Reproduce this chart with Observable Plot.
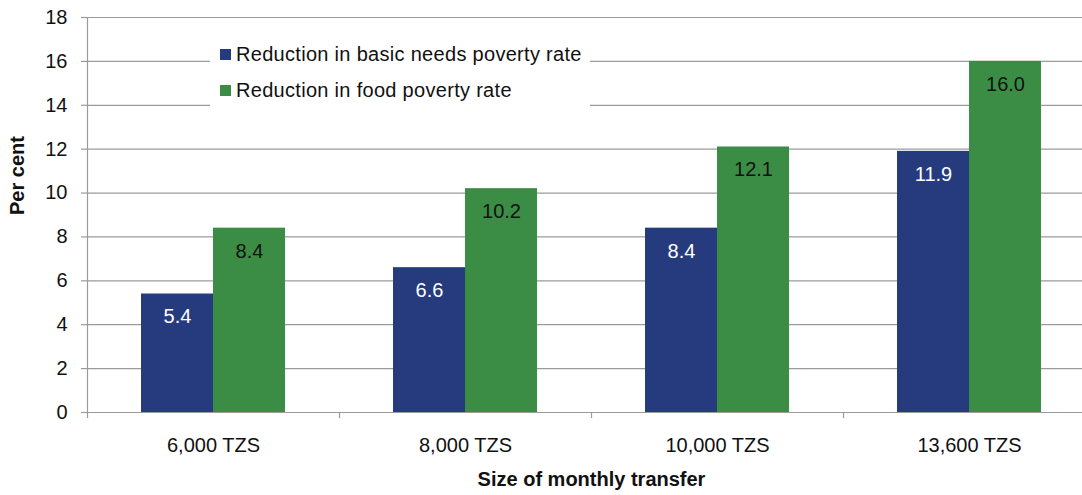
<!DOCTYPE html>
<html>
<head>
<meta charset="utf-8">
<script src="https://cdn.jsdelivr.net/npm/d3@7"></script>
<script src="https://cdn.jsdelivr.net/npm/@observablehq/plot@0.6"></script>
<style>
  html, body { margin: 0; padding: 0; background: #fff; overflow: hidden; }
  #chart { position: relative; width: 1082px; height: 495px; font-family: "Liberation Sans", Arial, Helvetica, sans-serif; }
  #legend { position: absolute; left: 210px; top: 36px; width: 380px; height: 82px; background: #fff; }
  .item { position: absolute; left: 10px; font-size: 20px; letter-spacing: 0.3px; color: #111; white-space: nowrap; }
  .sw { position: absolute; left: 0; width: 11px; height: 11px; }
  .lab { position: absolute; left: 16px; }
</style>
</head>
<body>
<div id="chart"></div>
<script>
// Size of the monthly cash transfer (categories)
const transfers = ["6,000 TZS", "8,000 TZS", "10,000 TZS", "13,600 TZS"];
// Reduction in poverty rates, per cent
const basicNeeds = [5.4, 6.6, 8.4, 11.9];
const foodPoverty = [8.4, 10.2, 12.1, 16.0];
const seriesNames = ["Reduction in basic needs poverty rate", "Reduction in food poverty rate"];
const seriesColors = ["#263B7E", "#3B8D46"];
const yTicks = [0, 2, 4, 6, 8, 10, 12, 14, 16, 18];

const basicRows = transfers.map((t, i) => ({transfer: t, value: basicNeeds[i]}));
const foodRows = transfers.map((t, i) => ({transfer: t, value: foodPoverty[i]}));

const width = 1082, height = 495;
const marginLeft = 87, marginRight = -13, marginTop = 17, marginBottom = 83;
const band = (width - marginLeft - marginRight) / transfers.length;
const barW = band * 2 / 7;          // each bar is 2/7 of a category band
const outer = (band - 2 * barW) / 2; // white space on each side of a pair
const grey = "#9b9b9b";
const font = "\"Liberation Sans\", Arial, Helvetica, sans-serif";

const chart = Plot.plot({
  width, height, marginLeft, marginRight, marginTop, marginBottom,
  style: {fontFamily: font, fontSize: "20px", color: "#111", background: "#fff"},
  x: {domain: transfers, padding: 0},
  y: {domain: [0, 18]},
  marks: [
    // horizontal gridlines
    Plot.ruleY(yTicks, {stroke: grey, strokeWidth: 1.2}),
    // left axis line (runs down past the baseline like the category ticks)
    Plot.ruleX([transfers[0]], {dx: -band / 2, y1: 18, y2: 0, insetBottom: -6, stroke: grey, strokeWidth: 1.2}),
    // short ticks separating the categories
    Plot.ruleX(transfers.slice(1), {dx: -band / 2, y1: 0, y2: 0, insetBottom: -6, stroke: grey, strokeWidth: 1.2}),
    Plot.axisY({ticks: yTicks, tickSize: 6, tickPadding: 14, stroke: grey, strokeWidth: 1.2, fill: "#111", label: null, fontSize: 20}),
    Plot.axisX({tickSize: 0, tickPadding: 25, label: null, fill: "#111", fontSize: 20}),
    // bars
    Plot.barY(basicRows, {x: "transfer", y: "value", fill: seriesColors[0], insetLeft: outer, insetRight: outer + barW}),
    Plot.barY(foodRows, {x: "transfer", y: "value", fill: seriesColors[1], insetLeft: outer + barW, insetRight: outer}),
    // value labels inside the top of each bar
    Plot.text(basicRows, {x: "transfer", y: "value", text: d => d.value.toFixed(1), dx: -barW / 2, dy: 23, fill: "#fff", fontSize: 20}),
    Plot.text(foodRows, {x: "transfer", y: "value", text: d => d.value.toFixed(1), dx: barW / 2, dy: 23, fill: "#111", fontSize: 20}),
    // axis titles
    Plot.text(["Size of monthly transfer"], {frameAnchor: "bottom", lineAnchor: "middle", dy: 67, fontWeight: "bold", fontSize: 20, fill: "#111"}),
    Plot.text(["Per cent"], {frameAnchor: "left", dx: -70, rotate: -90, fontWeight: "bold", fontSize: 20, fill: "#111"})
  ]
});

const root = document.getElementById("chart");
root.appendChild(chart);

// legend box sitting over the top gridlines
const legend = document.createElement("div");
legend.id = "legend";
seriesNames.forEach((name, i) => {
  const item = document.createElement("div");
  item.className = "item";
  item.style.top = (9 + i * 36) + "px";
  item.innerHTML = `<span class="sw" style="background:${seriesColors[i]};top:4px"></span><span class="lab" style="top:-2px">${name}</span>`;
  legend.appendChild(item);
});
root.appendChild(legend);
</script>
</body>
</html>
